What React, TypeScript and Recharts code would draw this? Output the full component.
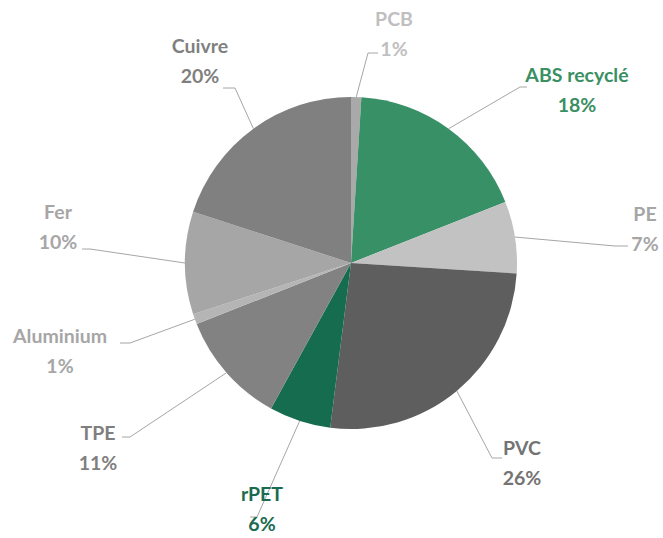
import React from 'react';
import { PieChart, Pie, Cell } from 'recharts';

const materials = ['PCB', 'ABS recyclé', 'PE', 'PVC', 'rPET', 'TPE', 'Aluminium', 'Fer', 'Cuivre'];
const shares = [1, 18, 7, 26, 6, 11, 1, 10, 20];
const sliceColors = ['#a9a9a9', '#389066', '#c2c2c2', '#5e5e5e', '#166c4f', '#828282', '#b5b5b5', '#a6a6a6', '#808080'];
const labelColors = ['#bfbfbf', '#3a8f63', '#a6a6a6', '#747474', '#1a6b4f', '#7f7f7f', '#a6a6a6', '#a6a6a6', '#7f7f7f'];

const data = materials.map((name, i) => ({ name, value: shares[i] }));

// label layout relative to pie centre: text block centre (bx, by), elbow (ex, ey), tick end (tx)
const labelLayout = [
  { bx: 43, by: -230, ex: 17, ey: -210, tx: 27 },
  { bx: 226, by: -174, ex: 169, ey: -176, tx: 176 },
  { bx: 294, by: -35, ex: 264, ey: -17, tx: 277 },
  { bx: 171, by: 199, ex: 141, ey: 195, tx: 151 },
  { bx: -89, by: 245, ex: -94, ey: 254, tx: -101 },
  { bx: -253, by: 184, ex: -221, ey: 174, tx: -229 },
  { bx: -291, by: 87, ex: -221, ey: 80, tx: -231 },
  { bx: -293, by: -37, ex: -261, ey: -14, tx: -269 },
  { bx: -151, by: -203, ex: -116, ey: -175, tx: -128 },
];

const RAD = Math.PI / 180;

const renderLabel = (props: any) => {
  const { cx, cy, midAngle, outerRadius, index, percent } = props;
  const L = labelLayout[index];
  const sx = cx + outerRadius * Math.cos(-midAngle * RAD);
  const sy = cy + outerRadius * Math.sin(-midAngle * RAD);
  const ex = cx + L.ex;
  const ey = cy + L.ey;
  const tx = cx + L.tx;
  const bx = cx + L.bx;
  const by = cy + L.by;
  const color = labelColors[index];
  const font = { fontFamily: "Lato, 'Open Sans', sans-serif", fontWeight: 700, fontSize: 19.5 };
  return (
    <g key={`lbl-${index}`}>
      <polyline
        points={`${sx},${sy} ${ex},${ey} ${tx},${ey}`}
        fill="none"
        stroke="#a6a6a6"
        strokeWidth={1}
      />
      <text x={bx} y={by - 15} textAnchor="middle" dominantBaseline="central" fill={color} {...font}>
        {materials[index]}
      </text>
      <text x={bx} y={by + 15} textAnchor="middle" dominantBaseline="central" fill={color} {...font}>
        {`${Math.round(percent * 100)}%`}
      </text>
    </g>
  );
};

export default function App() {
  return (
    <div style={{ position: 'absolute', left: 0, top: 0, width: 663, height: 538, background: '#ffffff' }}>
      <PieChart width={663} height={538} margin={{ top: 0, right: 0, bottom: 0, left: 0 }}>
        <Pie
          data={data}
          dataKey="value"
          nameKey="name"
          cx={351}
          cy={263}
          outerRadius={166}
          startAngle={90}
          endAngle={-270}
          stroke="none"
          label={renderLabel}
          labelLine={false}
          isAnimationActive={false}
        >
          {data.map((d, i) => (
            <Cell key={d.name} fill={sliceColors[i]} />
          ))}
        </Pie>
      </PieChart>
    </div>
  );
}
